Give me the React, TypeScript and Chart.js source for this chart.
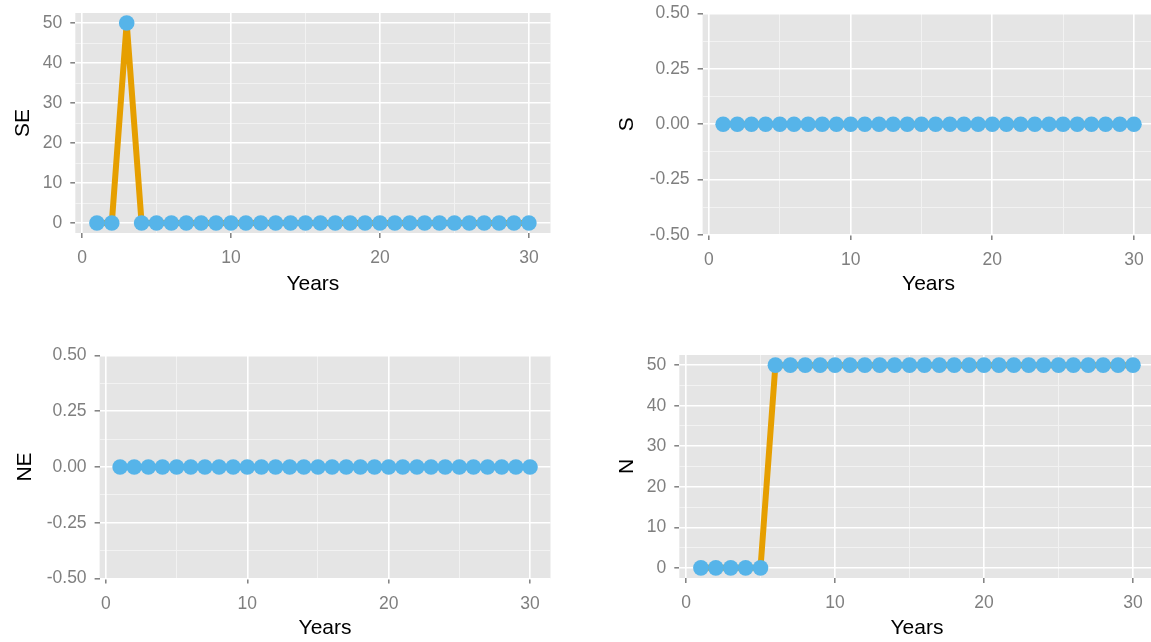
import React, { useEffect, useRef } from "react";
import { Chart, registerables } from "chart.js";
Chart.register(...registerables);

const years = [1, 2, 3, 4, 5, 6, 7, 8, 9, 10, 11, 12, 13, 14, 15, 16, 17, 18, 19, 20, 21, 22, 23, 24, 25, 26, 27, 28, 29, 30];
const seValues = [0, 0, 50, 0, 0, 0, 0, 0, 0, 0, 0, 0, 0, 0, 0, 0, 0, 0, 0, 0, 0, 0, 0, 0, 0, 0, 0, 0, 0, 0];
const sValues = [0, 0, 0, 0, 0, 0, 0, 0, 0, 0, 0, 0, 0, 0, 0, 0, 0, 0, 0, 0, 0, 0, 0, 0, 0, 0, 0, 0, 0, 0];
const neValues = [0, 0, 0, 0, 0, 0, 0, 0, 0, 0, 0, 0, 0, 0, 0, 0, 0, 0, 0, 0, 0, 0, 0, 0, 0, 0, 0, 0, 0, 0];
const nValues = [0, 0, 0, 0, 0, 50, 50, 50, 50, 50, 50, 50, 50, 50, 50, 50, 50, 50, 50, 50, 50, 50, 50, 50, 50, 50, 50, 50, 50, 50];

const xTicks = [0, 10, 20, 30];
const xMinorTicks = [5, 15, 25];
const countTicks = [0, 10, 20, 30, 40, 50];
const countMinorTicks = [5, 15, 25, 35, 45];
const zeroTicks = [-0.5, -0.25, 0, 0.25, 0.5];
const zeroMinorTicks = [-0.375, -0.125, 0.125, 0.375];

const xTitle = "Years";
const FONT = "'Liberation Sans', Arial, sans-serif";
const TICK_SIZE = 17.5;
const TITLE_SIZE = 21;
const TITLE_LH = TITLE_SIZE * 1.2;

type Panel = {
  label: string;
  values: number[];
  yMin: number;
  yMax: number;
  yTicks: number[];
  yMinor: number[];
  decimals: number;
  canvas: { l: number; t: number; w: number; h: number };
  area: { l: number; t: number; r: number; b: number };
  xTitleY: number;
  yTitleX: number;
};

const panels: Panel[] = [
  {
    label: "SE", values: seValues, yMin: -2.5, yMax: 52.5, yTicks: countTicks, yMinor: countMinorTicks, decimals: 0,
    canvas: { l: 0, t: 0, w: 575, h: 315 }, area: { l: 75.3, t: 13, r: 550.5, b: 233 }, xTitleY: 284, yTitleX: 23,
  },
  {
    label: "S", values: sValues, yMin: -0.5, yMax: 0.5, yTicks: zeroTicks, yMinor: zeroMinorTicks, decimals: 2,
    canvas: { l: 575, t: 0, w: 600, h: 315 }, area: { l: 702.6, t: 13.5, r: 1154.5, b: 235 }, xTitleY: 284, yTitleX: 627,
  },
  {
    label: "NE", values: neValues, yMin: -0.5, yMax: 0.5, yTicks: zeroTicks, yMinor: zeroMinorTicks, decimals: 2,
    canvas: { l: 0, t: 320, w: 575, h: 322 }, area: { l: 99.6, t: 355.5, r: 550.5, b: 578.5 }, xTitleY: 628, yTitleX: 25,
  },
  {
    label: "N", values: nValues, yMin: -2.5, yMax: 52.5, yTicks: countTicks, yMinor: countMinorTicks, decimals: 0,
    canvas: { l: 575, t: 320, w: 600, h: 322 }, area: { l: 679.3, t: 355, r: 1154.6, b: 578 }, xTitleY: 628, yTitleX: 627,
  },
];

const bgPlugin = {
  id: "panelBg",
  beforeDraw(chart: any) {
    const { ctx, chartArea } = chart;
    ctx.save();
    ctx.fillStyle = "#E5E5E5";
    ctx.fillRect(chartArea.left, chartArea.top, chartArea.right - chartArea.left, chartArea.bottom - chartArea.top);
    ctx.restore();
  },
};

function zeroPad(s: any) {
  s.paddingTop = 0;
  s.paddingBottom = 0;
  s.paddingLeft = 0;
  s.paddingRight = 0;
}

function PanelChart({ p }: { p: Panel }) {
  const ref = useRef<HTMLCanvasElement | null>(null);
  useEffect(() => {
    if (!ref.current) return;
    const c = p.canvas;
    const a = p.area;
    const yWidth = a.l - c.l;
    const xHeight = c.t + c.h - a.b;
    const setTicks = (vals: number[]) => (scale: any) => {
      scale.ticks = vals.map((v) => ({ value: v }));
    };
    const chart = new Chart(ref.current, {
      type: "line",
      data: {
        datasets: [
          {
            data: years.map((yr, i) => ({ x: yr, y: p.values[i] })),
            borderColor: "#E69F00",
            borderWidth: 6,
            tension: 0,
            pointRadius: 7.8,
            pointBackgroundColor: "#56B4E9",
            pointBorderWidth: 0,
            pointBorderColor: "#56B4E9",
            clip: false as any,
          },
        ],
      },
      options: {
        responsive: false,
        animation: false,
        events: [],
        layout: { padding: { left: 0, top: a.t - c.t, right: c.l + c.w - a.r, bottom: 0 } },
        plugins: { legend: { display: false }, tooltip: { enabled: false }, title: { display: false } },
        scales: {
          xMinor: {
            type: "linear", position: "bottom", min: -0.45, max: 31.45,
            afterBuildTicks: setTicks(xMinorTicks),
            afterFit: (s: any) => { s.height = 0; zeroPad(s); },
            grid: { color: "#F2F2F2", lineWidth: 1, drawTicks: false },
            border: { display: false },
            ticks: { display: false, autoSkip: false },
          },
          yMinor: {
            type: "linear", position: "left", min: p.yMin, max: p.yMax,
            afterBuildTicks: setTicks(p.yMinor),
            afterFit: (s: any) => { s.width = 0; zeroPad(s); },
            grid: { color: "#F2F2F2", lineWidth: 1, drawTicks: false },
            border: { display: false },
            ticks: { display: false, autoSkip: false },
          },
          x: {
            type: "linear", position: "bottom", min: -0.45, max: 31.45,
            afterBuildTicks: setTicks(xTicks),
            afterFit: (s: any) => { s.height = xHeight; zeroPad(s); },
            grid: { color: "#FFFFFF", lineWidth: 1.6, drawTicks: true, tickLength: 5, tickColor: "#7F7F7F", tickWidth: 1.5 },
            border: { display: false },
            ticks: {
              autoSkip: false, maxRotation: 0, padding: 10, color: "#7F7F7F",
              font: { family: FONT, size: TICK_SIZE },
              callback: (v: any) => String(v),
            },
            title: {
              display: true, text: xTitle, color: "#000000",
              font: { family: FONT, size: TITLE_SIZE },
              padding: { top: 0, bottom: c.t + c.h - p.xTitleY - TITLE_LH / 2 },
            },
          },
          y: {
            type: "linear", position: "left", min: p.yMin, max: p.yMax,
            afterBuildTicks: setTicks(p.yTicks),
            afterFit: (s: any) => { s.width = yWidth; zeroPad(s); },
            grid: { color: "#FFFFFF", lineWidth: 1.6, drawTicks: true, tickLength: 5, tickColor: "#7F7F7F", tickWidth: 1.5 },
            border: { display: false },
            ticks: {
              autoSkip: false, padding: 8, color: "#7F7F7F",
              font: { family: FONT, size: TICK_SIZE },
              callback: (v: any) => Number(v).toFixed(p.decimals),
            },
            title: {
              display: true, text: p.label, color: "#000000",
              font: { family: FONT, size: TITLE_SIZE },
              padding: { top: p.yTitleX - c.l - TITLE_LH / 2, bottom: 0 },
            },
          },
        },
      } as any,
      plugins: [bgPlugin],
    });
    return () => chart.destroy();
  }, [p]);
  return (
    <canvas
      ref={ref}
      width={p.canvas.w}
      height={p.canvas.h}
      style={{ position: "absolute", left: p.canvas.l, top: p.canvas.t, width: p.canvas.w, height: p.canvas.h }}
    />
  );
}

export default function App() {
  return (
    <div style={{ position: "fixed", left: 0, top: 0, width: 1151, height: 642, overflow: "hidden", background: "#FFFFFF" }}>
      {panels.map((p) => (
        <PanelChart key={p.label} p={p} />
      ))}
    </div>
  );
}
